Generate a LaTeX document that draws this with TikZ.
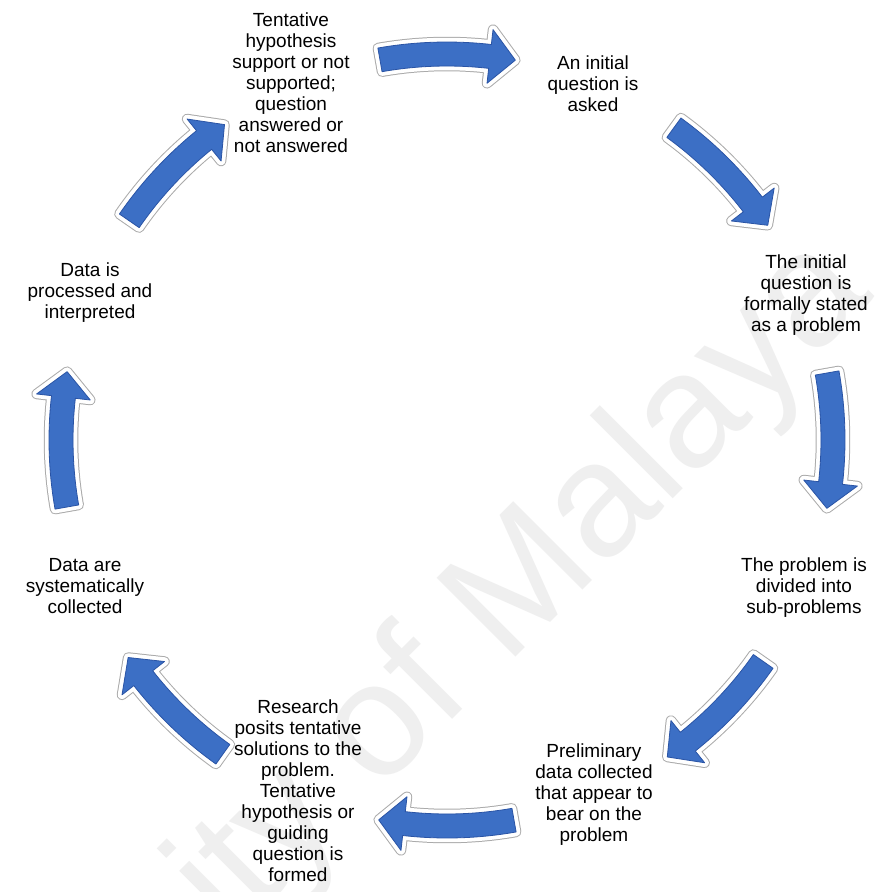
\documentclass[tikz,border=0pt]{standalone}
\usepackage{fontspec}
\setmainfont{Liberation Sans}
\definecolor{arrowblue}{RGB}{60,111,197}
\definecolor{arrowedge}{RGB}{42,84,165}
\definecolor{arrowrim}{RGB}{170,170,170}
\definecolor{markgray}{RGB}{239,239,239}

% first-line strut so that every block's north edge sits 15pt above its first baseline
\newcommand\firstline{\rule{0pt}{15pt}}

% curved block arrow on the cycle circle, centred on angle #1 (degrees, clockwise on the page)
\newcommand\cyclearrow[1]{%
  \pgfmathsetmacro\aS{#1-10}%
  \pgfmathsetmacro\aH{#1+6.4}%
  \pgfmathsetmacro\aT{#1+10.2}%
  \def\arrowpath{(\aS:398) arc[start angle=\aS, end angle=\aH, radius=398]
    -- (\aH:413) -- (\aT:386) -- (\aH:359) -- (\aH:374)
    arc[start angle=\aH, end angle=\aS, radius=374] -- cycle}%
  \begin{scope}[shift={(hub)}]
    \draw[arrowrim, line width=10.5pt, line join=round] \arrowpath;
    \draw[white, line width=8.5pt, line join=round] \arrowpath;
    \fill[arrowblue, draw=arrowedge, line width=0.8pt, line join=round] \arrowpath;
  \end{scope}}

\tikzset{
  stage/.style={align=center, inner sep=0pt, anchor=north, text=black,
    font=\fontsize{19}{21}\selectfont},
  watermark/.style={anchor=base west, inner sep=0pt, text=markgray,
    font=\fontsize{162}{162}\selectfont}
}

\begin{document}
\begin{tikzpicture}[x=1pt, y=-1pt]
  \useasboundingbox (0,0) rectangle (879,892);
  \fill[white] (0,0) rectangle (879,892);

  % faint diagonal watermark
  \begin{scope}
    \clip (0,0) rectangle (879,892);
    \node[watermark, rotate=45] (mark) at (-156,1328) {University of Malaya};
  \end{scope}

  \coordinate (hub) at (447,440);

  % the eight block arrows of the cycle
  \cyclearrow{-90}
  \cyclearrow{-44}
  \cyclearrow{0}
  \cyclearrow{45}
  \cyclearrow{90}
  \cyclearrow{135.5}
  \cyclearrow{180}
  \cyclearrow{224.6}

  % stages of the research cycle
  \node[stage] (n1) at (593,54) {\firstline An initial\\question is\\asked};
  \node[stage] (n2) at (806,253) {\firstline The initial\\question is\\formally stated\\as a problem};
  \node[stage] (n3) at (804,556) {\firstline The problem is\\divided into\\sub-problems};
  \node[stage] (n4) at (594,742) {\firstline Preliminary\\data collected\\that appear to\\bear on the\\problem};
  \node[stage] (n5) at (298,698.6) {\firstline Research\\posits tentative\\solutions to the\\problem.\\Tentative\\hypothesis or\\guiding\\question is\\formed};
  \node[stage] (n6) at (85,556) {\firstline Data are\\systematically\\collected};
  \node[stage] (n7) at (90,261) {\firstline Data is\\processed and\\interpreted};
  \node[stage] (n8) at (291,11.7) {\firstline Tentative\\hypothesis\\support or not\\supported;\\question\\answered or\\not answered};
\end{tikzpicture}
\end{document}
